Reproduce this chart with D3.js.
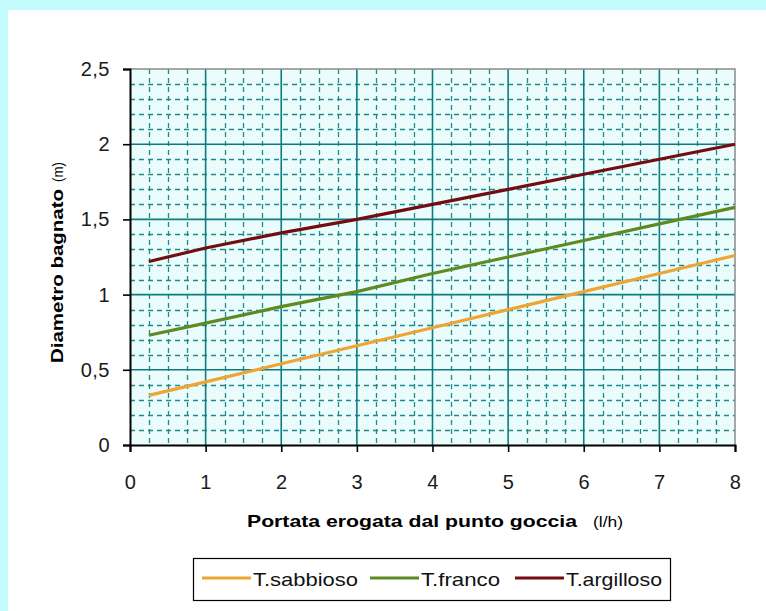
<!DOCTYPE html>
<html>
<head>
<meta charset="utf-8">
<script src="https://cdn.jsdelivr.net/npm/d3@7"></script>
<style>
  html, body { margin: 0; padding: 0; background: #c4fbfc; }
  svg { display: block; }
  text { font-family: "Liberation Sans", Arial, sans-serif; }
</style>
</head>
<body>
<svg id="chart" width="766" height="611"></svg>
<script>
// Portata (l/h) at which each curve is read
const portata = [0.25, 1, 2, 3, 4, 5, 6, 7, 8];
// Diametro bagnato (m) for each soil type
const sabbioso  = [0.33, 0.42, 0.54, 0.66, 0.78, 0.90, 1.02, 1.14, 1.26];
const franco    = [0.73, 0.81, 0.92, 1.02, 1.14, 1.25, 1.36, 1.47, 1.58];
const argilloso = [1.22, 1.31, 1.41, 1.50, 1.60, 1.70, 1.80, 1.90, 2.00];

const seriesNames  = ["T.sabbioso", "T.franco", "T.argilloso"];
const seriesColors = ["#eea533", "#5f8a22", "#730d12"];
const xTicks = [0, 1, 2, 3, 4, 5, 6, 7, 8];
const yTicks = [0, 0.5, 1, 1.5, 2, 2.5];

const svg = d3.select("#chart");

// white panel inside the cyan frame
svg.append("rect").attr("x", 8).attr("y", 10).attr("width", 758).attr("height", 601).attr("fill", "#ffffff");

const x = d3.scaleLinear().domain([0, 8]).range([130, 735]);
const y = d3.scaleLinear().domain([0, 2.5]).range([445, 69]);

// plot background
svg.append("rect")
  .attr("x", x(0)).attr("y", y(2.5))
  .attr("width", x(8) - x(0)).attr("height", y(0) - y(2.5))
  .attr("fill", "#ebfcfc");

const grid = svg.append("g");
// minor grid: every 0.25 on x, every 0.1 on y
const xMinor = d3.range(0, 8.001, 0.25).filter(v => Math.abs(v - Math.round(v)) > 1e-6);
const yMinor = d3.range(0, 2.5001, 0.1).filter(v => Math.abs(v * 2 - Math.round(v * 2)) > 1e-6);
grid.selectAll(".vmin").data(xMinor).join("line")
  .attr("x1", d => Math.round(x(d)) + 0.5).attr("x2", d => Math.round(x(d)) + 0.5)
  .attr("y1", y(2.5)).attr("y2", y(0))
  .attr("stroke", "#1f8a8a").attr("stroke-width", 1.3).attr("stroke-dasharray", "5,4");
grid.selectAll(".hmin").data(yMinor).join("line")
  .attr("y1", d => Math.round(y(d)) + 0.5).attr("y2", d => Math.round(y(d)) + 0.5)
  .attr("x1", x(0)).attr("x2", x(8))
  .attr("stroke", "#1f8a8a").attr("stroke-width", 1.3).attr("stroke-dasharray", "5,4");
// major grid
grid.selectAll(".vmaj").data(xTicks.slice(1, -1)).join("line")
  .attr("x1", d => x(d)).attr("x2", d => x(d))
  .attr("y1", y(2.5)).attr("y2", y(0))
  .attr("stroke", "#0e7b7f").attr("stroke-width", 1.6);
grid.selectAll(".hmaj").data(yTicks.slice(1, -1)).join("line")
  .attr("y1", d => y(d)).attr("y2", d => y(d))
  .attr("x1", x(0)).attr("x2", x(8))
  .attr("stroke", "#0e7b7f").attr("stroke-width", 1.6);

// top and right frame
svg.append("path")
  .attr("d", `M${x(0)},${y(2.5)}H${x(8)}V${y(0)}`)
  .attr("fill", "none").attr("stroke", "#8a8a8a").attr("stroke-width", 1.5);

// series lines
const allSeries = [sabbioso, franco, argilloso];
const line = d3.line().x((d, i) => x(portata[i])).y(d => y(d));
allSeries.forEach((vals, k) => {
  svg.append("path").datum(vals)
    .attr("d", line)
    .attr("fill", "none")
    .attr("stroke", seriesColors[k])
    .attr("stroke-width", 3.2);
});

// axes
const xAxis = d3.axisBottom(x).tickValues(xTicks).tickSize(7).tickPadding(23).tickFormat(d3.format("d"));
const yAxis = d3.axisLeft(y).tickValues(yTicks).tickSize(7).tickPadding(13)
  .tickFormat(d => String(d).replace(".", ","));

const gx = svg.append("g").attr("transform", `translate(0,${y(0)})`).call(xAxis);
const gy = svg.append("g").attr("transform", `translate(${x(0)},0)`).call(yAxis);
[gx, gy].forEach(g => {
  g.attr("font-size", null);
  g.select(".domain").attr("stroke", "#000").attr("stroke-width", 2);
  g.selectAll(".tick line").attr("stroke", "#000").attr("stroke-width", 1.6);
  g.selectAll(".tick text")
    .attr("fill", "#1a1a1a")
    .style("font-size", "20px")
    .style("letter-spacing", "0.5px")
    .style("font-family", "'Liberation Sans', Arial, sans-serif");
});

// axis titles
svg.append("text").attr("x", 247).attr("y", 527).attr("fill", "#000")
  .attr("font-weight", "bold").style("font-size", "17px")
  .attr("textLength", 330).attr("lengthAdjust", "spacingAndGlyphs")
  .text("Portata erogata dal punto goccia");
svg.append("text").attr("x", 593).attr("y", 527).attr("fill", "#000")
  .style("font-size", "15px")
  .attr("textLength", 30).attr("lengthAdjust", "spacingAndGlyphs")
  .text("(l/h)");

svg.append("text")
  .attr("transform", "translate(63,363) rotate(-90)")
  .attr("fill", "#000").attr("font-weight", "bold").style("font-size", "17px")
  .attr("textLength", 174).attr("lengthAdjust", "spacingAndGlyphs")
  .text("Diametro bagnato");
svg.append("text")
  .attr("transform", "translate(63,182) rotate(-90)")
  .attr("fill", "#000").style("font-size", "14px")
  .attr("textLength", 20).attr("lengthAdjust", "spacingAndGlyphs")
  .text("(m)");

// legend
const legend = svg.append("g");
legend.append("rect")
  .attr("x", 193.5).attr("y", 558.5).attr("width", 477).attr("height", 42)
  .attr("fill", "#ffffff").attr("stroke", "#000").attr("stroke-width", 1.2);
const legX = [202, 370, 515];
const legW = [105, 79, 96];
seriesNames.forEach((name, k) => {
  legend.append("line")
    .attr("x1", legX[k]).attr("x2", legX[k] + 49)
    .attr("y1", 578).attr("y2", 578)
    .attr("stroke", seriesColors[k]).attr("stroke-width", 3);
  legend.append("text")
    .attr("x", legX[k] + 51).attr("y", 586)
    .style("font-size", "19px").attr("fill", "#111")
    .attr("textLength", legW[k]).attr("lengthAdjust", "spacingAndGlyphs")
    .text(name);
});
</script>
</body>
</html>
